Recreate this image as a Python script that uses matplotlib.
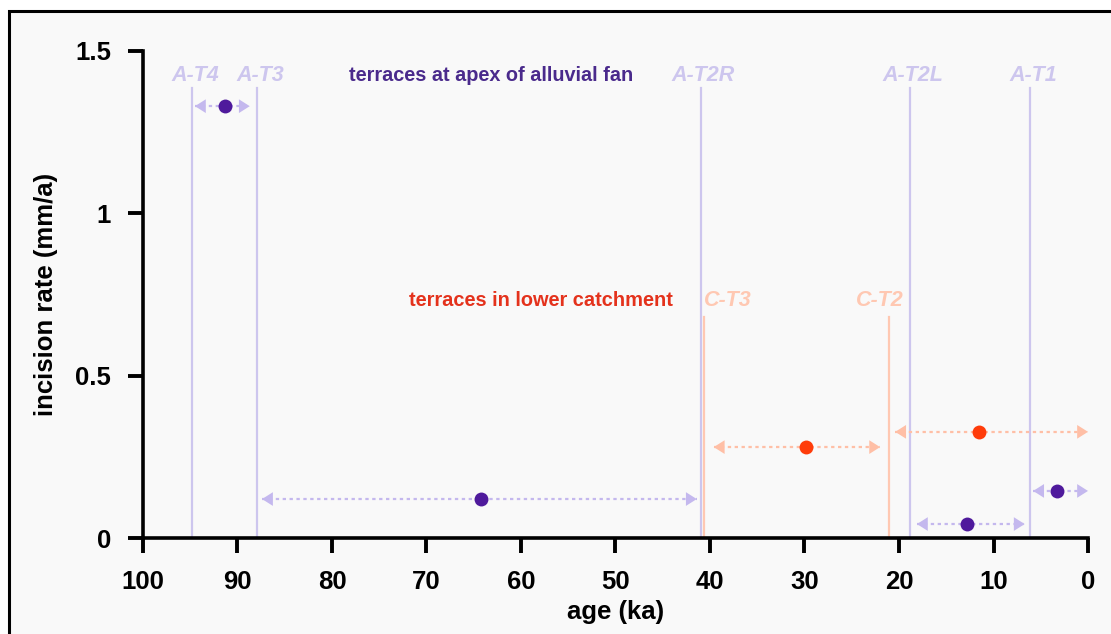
import matplotlib
matplotlib.use("Agg")
import matplotlib.pyplot as plt
from matplotlib.patches import Rectangle

plt.rcParams['font.family'] = ['Liberation Sans', 'DejaVu Sans']

# terraces at apex of alluvial fan
apex_age = [91.3, 64.2, 12.8, 3.3]
apex_rate = [1.33, 0.12, 0.043, 0.145]
apex_min = [88.7, 41.4, 6.7, 0.0]
apex_max = [94.5, 87.4, 18.1, 5.8]

# terraces in lower catchment
catch_age = [29.8, 11.5]
catch_rate = [0.28, 0.327]
catch_min = [22.0, 0.0]
catch_max = [39.6, 20.4]

apex_names = ['A-T4', 'A-T3', 'A-T2R', 'A-T2L', 'A-T1']
apex_lines = [94.8, 87.9, 41.0, 18.8, 6.1]
catch_names = ['C-T3', 'C-T2']
catch_lines = [40.6, 21.1]

xticks = [100, 90, 80, 70, 60, 50, 40, 30, 20, 10, 0]
yticks = [0, 0.5, 1, 1.5]
yticklabels = ['0', '0.5', '1', '1.5']

c_apex_line = '#cdc6ee'
c_apex_arrow = '#c4b8ee'
c_apex_dot = '#4f1a9c'
c_apex_text = '#4a2a8c'
c_catch_line = '#ffc8b2'
c_catch_arrow = '#ffbfa6'
c_catch_dot = '#ff3c0a'
c_catch_text = '#e4321c'

fig = plt.figure(figsize=(11.11, 6.34), dpi=100, facecolor='white')
fig.add_artist(Rectangle((0.008, -0.1), 1.2, 0.1 + 0.9826, transform=fig.transFigure,
                         facecolor='#f9f9f9', edgecolor='black', lw=2.2, zorder=-10))
ax = fig.add_axes([0.1287, 0.1514, 0.8506, 0.7682])
ax.set_facecolor('none')

# terrace age lines
for name, a in zip(apex_names, apex_lines):
    ax.plot([a, a], [0, 1.385], color=c_apex_line, lw=1.6, zorder=1)
    ax.text(a - 0.3, 1.426, name, color=c_apex_line, fontsize=15.5, fontweight='bold',
            fontstyle='italic', ha='center', va='center')
for i, (name, a) in enumerate(zip(catch_names, catch_lines)):
    ax.plot([a, a], [0, 0.68], color=c_catch_line, lw=1.6, zorder=1)
    tx = a - 2.5 if i == 0 else a + 0.9
    ax.text(tx, 0.733, name, color=c_catch_line, fontsize=15.5, fontweight='bold',
            fontstyle='italic', ha='center', va='center')

# uncertainty arrows: dashed shaft, solid heads ending at the range limits
def arrows(lo, hi, y, color):
    head = dict(arrowstyle='-|>,head_length=0.6,head_width=0.38', color=color,
                lw=0, shrinkA=0, shrinkB=0, mutation_scale=13)
    for l, h, r in zip(lo, hi, y):
        ax.plot([h, l], [r, r], color=color, lw=1.6, ls=(0, (1.5, 1.6)), zorder=2,
                clip_on=False)
        ax.annotate('', xy=(h, r), xytext=(h - 0.3, r), arrowprops=head,
                    annotation_clip=False, zorder=2)
        ax.annotate('', xy=(l, r), xytext=(l + 0.3, r), arrowprops=head,
                    annotation_clip=False, zorder=2)

arrows(apex_min, apex_max, apex_rate, c_apex_arrow)
arrows(catch_min, catch_max, catch_rate, c_catch_arrow)

ax.plot(apex_age, apex_rate, 'o', color=c_apex_dot, ms=10, mew=0, zorder=4)
ax.plot(catch_age, catch_rate, 'o', color=c_catch_dot, ms=10, mew=0, zorder=4)

ax.text(63.2, 1.426, 'terraces at apex of alluvial fan', color=c_apex_text,
        fontsize=14.3, fontweight='bold', ha='center', va='center')
ax.text(57.9, 0.733, 'terraces in lower catchment', color=c_catch_text,
        fontsize=14.4, fontweight='bold', ha='center', va='center')

ax.set_xlim(100, 0)
ax.set_ylim(0, 1.5)
ax.set_xticks(xticks)
ax.set_yticks(yticks)
ax.set_yticklabels(yticklabels)
for s in ['top', 'right']:
    ax.spines[s].set_visible(False)
for s in ['left', 'bottom']:
    ax.spines[s].set_linewidth(2.6)
ax.tick_params(direction='out', length=11, width=2.8, labelsize=18.5)
ax.tick_params(axis='x', pad=12)
ax.tick_params(axis='y', pad=12)
for lab in ax.get_xticklabels() + ax.get_yticklabels():
    lab.set_fontweight('bold')
ax.set_xlabel('age (ka)', fontsize=18.5, fontweight='bold', labelpad=4)
ax.set_ylabel('incision rate (mm/a)', fontsize=18.5, fontweight='bold', labelpad=12)

fig.savefig('out.png', dpi=100)
